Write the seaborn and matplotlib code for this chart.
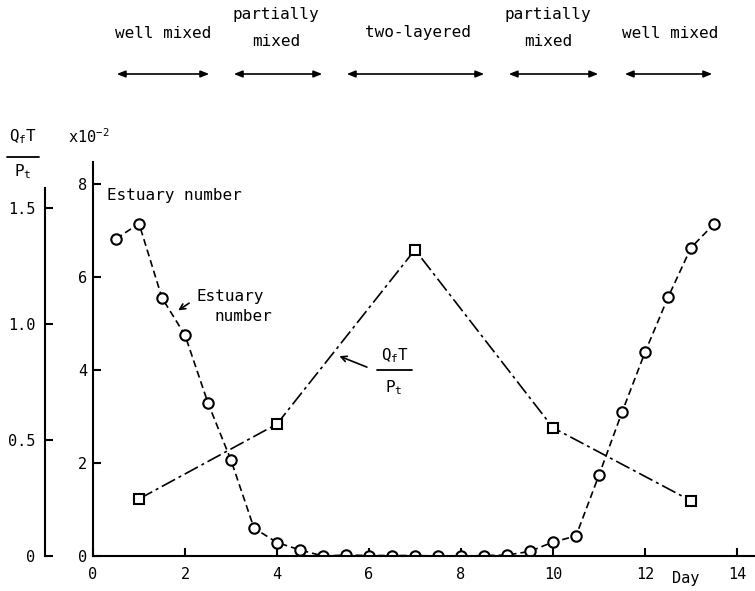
import matplotlib
matplotlib.use("Agg")
import matplotlib.pyplot as plt
import seaborn as sns
from matplotlib.lines import Line2D

# estuary number (x10^-2), read every half day
est_day = [0.5, 1.0, 1.5, 2.0, 2.5, 3.0, 3.5, 4.0, 4.5, 5.0, 5.5, 6.0, 6.5, 7.0,
           7.5, 8.0, 8.5, 9.0, 9.5, 10.0, 10.5, 11.0, 11.5, 12.0, 12.5, 13.0, 13.5]
est_val = [6.82, 7.15, 5.55, 4.75, 3.29, 2.06, 0.60, 0.29, 0.13, 0.0, 0.02, 0.01,
           0.01, 0.01, 0.0, 0.0, 0.01, 0.02, 0.10, 0.30, 0.43, 1.74, 3.09, 4.38,
           5.56, 6.63, 7.14]

# Q_f T / P_t
qt_day = [1, 4, 7, 10, 13]
qt_val = [0.246, 0.569, 1.32, 0.553, 0.238]

x_ticks = [0, 2, 4, 6, 8, 10, 12, 14]
est_ticks = [0, 2, 4, 6, 8]
qt_ticks = [0, 0.5, 1.0, 1.5]
qt_ticklabels = ["0", "0.5", "1.0", "1.5"]

regimes = ["well mixed", "partially\nmixed", "two-layered", "partially\nmixed", "well mixed"]

W, H = 755, 591


def fx(px):
    return px / W


def fy(py):
    return 1 - py / H


sns.set_style("ticks")
plt.rcParams['font.family'] = ['DejaVu Sans Mono', 'DejaVu Sans']
plt.rcParams['mathtext.fontset'] = 'custom'
plt.rcParams['mathtext.rm'] = 'DejaVu Sans Mono'
plt.rcParams['mathtext.it'] = 'DejaVu Sans Mono'
plt.rcParams['mathtext.bf'] = 'DejaVu Sans Mono:bold'
plt.rcParams['text.color'] = 'black'
plt.rcParams['xtick.color'] = 'black'
plt.rcParams['ytick.color'] = 'black'
plt.rcParams['axes.edgecolor'] = 'black'

fig = plt.figure(figsize=(7.55, 5.91), dpi=100)
ax = fig.add_axes([fx(93), fy(556), fx(755) - fx(93), (556 - 162) / H])

sns.lineplot(x=est_day, y=est_val, ax=ax, color='black', lw=1.2,
             linestyle=(0, (4.2, 2.4)), marker='o', markersize=7.5,
             markerfacecolor='white', markeredgecolor='black',
             markeredgewidth=1.5, estimator=None)
ax.set_xlim(0, 662 / 46)
ax.set_ylim(0, 394 / 46.5)
ax.set_xticks(x_ticks)
ax.set_yticks(est_ticks)
for s in ['top', 'right']:
    ax.spines[s].set_visible(False)
for s in ['left', 'bottom']:
    ax.spines[s].set_linewidth(1.5)
ax.tick_params(axis='both', direction='in', length=6, width=1.5, labelsize=11)
ax.tick_params(axis='x', pad=8)
ax.tick_params(axis='y', pad=4)

ax2 = ax.twinx()
sns.lineplot(x=qt_day, y=qt_val, ax=ax2, color='black', lw=1.2,
             linestyle=(0, (9, 2.4, 1.8, 2.4)), marker='s', markersize=7.5,
             markerfacecolor='white', markeredgecolor='black',
             markeredgewidth=1.5, estimator=None)
ax2.set_ylim(0, 394 / 232)
for s in ['top', 'right', 'bottom']:
    ax2.spines[s].set_visible(False)
ax2.spines['left'].set_visible(True)
ax2.spines['left'].set_linewidth(1.5)
ax2.spines['left'].set_position(('outward', 48 * 0.72))
ax2.spines['left'].set_bounds(0, 368 / 232)
ax2.yaxis.set_ticks_position('left')
ax2.yaxis.set_label_position('left')
ax2.set_yticks(qt_ticks)
ax2.set_yticklabels(qt_ticklabels)
ax2.tick_params(axis='y', direction='in', length=6, width=1.5, labelsize=11, pad=7)
ax.set_xlabel("")
ax.set_ylabel("")
ax2.set_ylabel("")

# in-plot labels
ax.text(0.3, 7.76, "Estuary number", fontsize=11.5, va='center', ha='left')
ax.text(2.24, 5.59, "Estuary", fontsize=11.5, va='center', ha='left')
ax.text(2.65, 5.16, "number", fontsize=11.5, va='center', ha='left')
ax.annotate("", xy=(1.80, 5.25), xytext=(2.14, 5.47),
            arrowprops=dict(arrowstyle='->', lw=1.2, color='black'))

ax.text(6.56, 4.30, "Q$_f$T", fontsize=11.5, va='center', ha='center')
ax.text(6.54, 3.62, "P$_t$", fontsize=11.5, va='center', ha='center')
fig.add_artist(Line2D([fx(377), fx(412)], [fy(370), fy(370)], color='black', lw=1.3))
ax.annotate("", xy=(5.30, 4.32), xytext=(6.01, 4.04),
            arrowprops=dict(arrowstyle='->', lw=1.2, color='black'))

# axis titles
fig.text(fx(23), fy(137), "Q$_f$T", fontsize=11.5, ha='center', va='center')
fig.add_artist(Line2D([fx(7), fx(39)], [fy(157), fy(157)], color='black', lw=1.3))
fig.text(fx(23), fy(172), "P$_t$", fontsize=11.5, ha='center', va='center')
fig.text(fx(68), fy(137), "x10$^{-2}$", fontsize=11, ha='left', va='center')
fig.text(fx(686), fy(579), "Day", fontsize=11, ha='center', va='center')

# regime bands along the top
text_x = [163, 276, 418, 548, 670]
arrow_x = [(114, 212), (231, 325), (344, 487), (506, 601), (622, 715)]
for lab, tx, (a0, a1) in zip(regimes, text_x, arrow_x):
    if "\n" in lab:
        top, bot = lab.split("\n")
        fig.text(fx(tx), fy(14), top, fontsize=11.5, ha='center', va='center')
        fig.text(fx(tx), fy(42), bot, fontsize=11.5, ha='center', va='center')
    else:
        fig.text(fx(tx), fy(33), lab, fontsize=11.5, ha='center', va='center')
    fig.add_artist(matplotlib.patches.FancyArrowPatch(
        (fx(a0), fy(74)), (fx(a1), fy(74)), transform=fig.transFigure,
        arrowstyle='<|-|>,head_length=5,head_width=2', lw=1.2, color='black'))

fig.savefig("out.png", dpi=100)
